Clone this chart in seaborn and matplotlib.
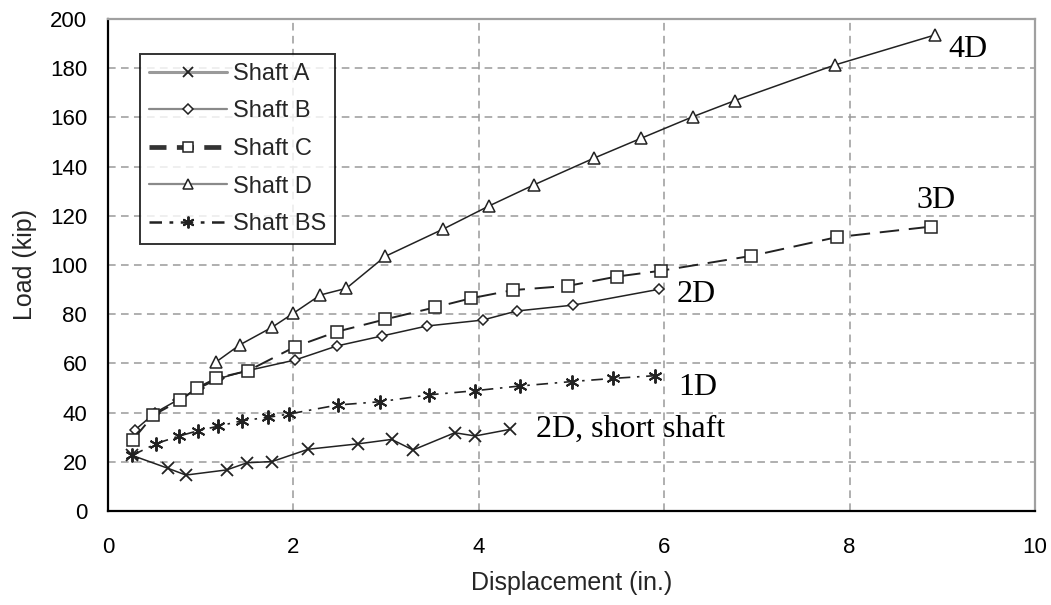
import numpy as np
import pandas as pd
import matplotlib
matplotlib.use("Agg")
import matplotlib.pyplot as plt
import seaborn as sns

# ---- data ----
shaft_a_x = [0.26, 0.65, 0.84, 1.28, 1.50, 1.77, 2.16, 2.70, 3.06, 3.29, 3.74, 3.96, 4.34]
shaft_a_y = [22.6, 17.3, 14.6, 16.7, 19.6, 20.1, 25.1, 27.3, 29.1, 24.8, 31.8, 30.5, 33.2]

shaft_b_x = [0.29, 0.51, 0.75, 0.98, 1.20, 1.50, 2.02, 2.47, 2.95, 3.44, 4.04, 4.41, 5.02, 5.94]
shaft_b_y = [32.9, 40.0, 45.1, 49.9, 53.9, 57.0, 61.4, 67.1, 71.1, 75.2, 77.6, 81.3, 83.7, 90.1]

shaft_c_x = [0.27, 0.49, 0.78, 0.96, 1.17, 1.51, 2.02, 2.47, 2.99, 3.53, 3.92, 4.37, 4.96, 5.49, 5.97, 6.94, 7.86, 8.88]
shaft_c_y = [29.0, 39.0, 45.0, 50.0, 54.0, 57.0, 66.8, 72.9, 77.9, 82.8, 86.5, 89.8, 91.5, 95.3, 97.7, 103.7, 111.3, 115.6]

shaft_d_x = [1.17, 1.42, 1.77, 2.00, 2.29, 2.57, 2.99, 3.61, 4.11, 4.59, 5.24, 5.75, 6.31, 6.76, 7.84, 8.92]
shaft_d_y = [60.7, 67.5, 74.7, 80.4, 87.8, 90.5, 103.5, 114.5, 124.0, 132.5, 143.4, 151.5, 160.3, 166.8, 181.3, 193.5]

shaft_bs_x = [0.26, 0.52, 0.77, 0.97, 1.19, 1.45, 1.73, 1.95, 2.48, 2.93, 3.46, 3.96, 4.44, 5.00, 5.45, 5.90]
shaft_bs_y = [22.6, 27.4, 30.5, 32.6, 34.5, 36.7, 38.1, 39.4, 43.1, 44.4, 47.2, 48.9, 50.8, 52.6, 53.9, 55.0]

series_names = ["Shaft A", "Shaft B", "Shaft C", "Shaft D", "Shaft BS"]
annotations = ["4D", "3D", "2D", "1D", "2D, short shaft"]
x_ticks = [0, 2, 4, 6, 8, 10]
y_ticks = [0, 20, 40, 60, 80, 100, 120, 140, 160, 180, 200]

# ---- styling ----
sns.set_style("white")
plt.rcParams["font.family"] = ["Liberation Sans", "DejaVu Sans"]

fig = plt.figure(figsize=(10.51, 6.05), dpi=100)
ax = fig.add_axes([0.1028, 0.1554, 0.8820, 0.8132])

line_col = "#222222"
specs = [
    (shaft_a_x, shaft_a_y, dict(marker="x", markersize=8, markeredgewidth=1.3, linestyle="-", linewidth=1.1)),
    (shaft_b_x, shaft_b_y, dict(marker="D", markersize=5.5, markerfacecolor="white", markeredgewidth=1.1, linestyle="-", linewidth=1.1)),
    (shaft_c_x, shaft_c_y, dict(marker="s", markersize=8, markerfacecolor="white", markeredgewidth=1.1, linestyle=(0, (10, 5)), linewidth=1.4)),
    (shaft_d_x, shaft_d_y, dict(marker="^", markersize=8.5, markerfacecolor="white", markeredgewidth=1.1, linestyle="-", linewidth=1.1)),
    (shaft_bs_x, shaft_bs_y, dict(marker=(6, 2, 0), markersize=10, markeredgewidth=1.4, linestyle=(0, (7, 4, 1.5, 4)), linewidth=1.2)),
]

for (xs, ys, kw), name in zip(specs, series_names):
    df = pd.DataFrame({"x": xs, "y": ys})
    sns.lineplot(data=df, x="x", y="y", ax=ax, sort=False, estimator=None,
                 color=line_col, markeredgecolor=line_col, label=name, **kw)

ax.set_xlim(0, 10)
ax.set_ylim(0, 200)
ax.set_xticks(x_ticks)
ax.set_yticks(y_ticks)
ax.set_xticklabels([str(t) for t in x_ticks])
ax.set_yticklabels([str(t) for t in y_ticks])
ax.tick_params(axis="x", direction="inout", length=10, width=1.2, labelsize=16, pad=14, colors="black")
ax.tick_params(axis="y", direction="out", length=7, width=1.2, labelsize=16, pad=8, colors="black")
ax.set_xlabel("Displacement (in.)", fontsize=18, labelpad=9)
ax.set_ylabel("Load (kip)", fontsize=18, labelpad=9)

ax.grid(True, color="#9a9a9a", linestyle=(0, (5, 3.5)), linewidth=1.1)
ax.set_axisbelow(True)
for s in ["left", "bottom"]:
    ax.spines[s].set_color("black")
    ax.spines[s].set_linewidth(1.6)
for s in ["top", "right"]:
    ax.spines[s].set_color("#a0a0a0")
    ax.spines[s].set_linewidth(1.6)

leg = ax.legend(loc="upper left", bbox_to_anchor=(0.0345, 0.929), frameon=True, fancybox=False,
                edgecolor="black", fontsize=17, handlelength=3.3, handletextpad=0.25,
                labelspacing=0.66, borderpad=0.38, borderaxespad=0)
leg.get_frame().set_linewidth(1.4)
leg_styles = [("#9a9a9a", 2.2, "-"), ("#8a8a8a", 1.6, "-"), ("#333333", 3.4, (0, (3.6, 2.2))),
              ("#8a8a8a", 1.6, "-"), ("#222222", 1.8, (0, (5, 3, 1.5, 3)))]
for h, (c, lw, ls) in zip(leg.get_lines(), leg_styles):
    h.set_color(c)
    h.set_linewidth(lw)
    h.set_linestyle(ls)
    h.set_markeredgecolor("#222222")
    h.set_markersize(h.get_markersize() * 0.85)

serif = ["Liberation Serif", "DejaVu Serif"]
ann_pos = [(9.07, 184.7), (8.72, 123.0), (6.13, 85.1), (6.15, 47.2), (4.62, 30.2)]
for txt, (px, py) in zip(annotations, ann_pos):
    ax.text(px, py, txt, family=serif, fontsize=23, ha="left", va="baseline", color="black")

fig.savefig("out.png", dpi=100)
